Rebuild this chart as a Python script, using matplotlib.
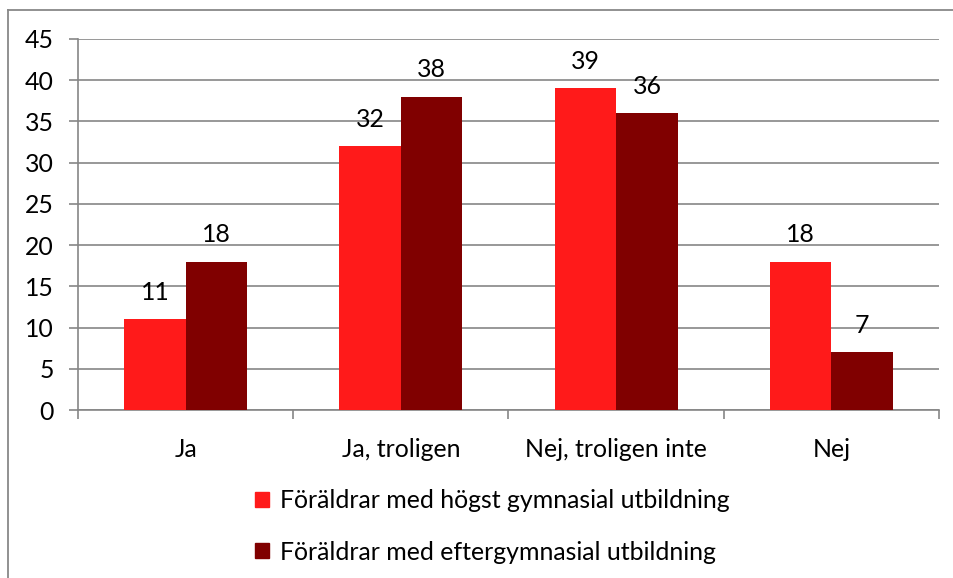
import matplotlib
matplotlib.use("Agg")
import matplotlib.pyplot as plt
import numpy as np
from matplotlib.lines import Line2D

categories = ["Ja", "Ja, troligen", "Nej, troligen inte", "Nej"]
series_names = ["Föräldrar med högst gymnasial utbildning",
                "Föräldrar med eftergymnasial utbildning"]
values_low = [11, 32, 39, 18]
values_high = [18, 38, 36, 7]
yticks = [0, 5, 10, 15, 20, 25, 30, 35, 40, 45]

colors = ["#FF1A1A", "#800000"]
W, H = 954, 578
FS = 17.9
plt.rcParams['font.family'] = ['Lato', 'DejaVu Sans']

fig = plt.figure(figsize=(W / 100, H / 100), dpi=100)
left, right, top, bottom = 78, 939, 39, 410
ax = fig.add_axes([left / W, 1 - bottom / H, (right - left) / W, (bottom - top) / H])

x = np.arange(len(categories))
bw = 0.286
b1 = ax.bar(x - bw / 2, values_low, bw, color=colors[0], zorder=3)
b2 = ax.bar(x + bw / 2, values_high, bw, color=colors[1], zorder=3)
for bars, vals in ((b1, values_low), (b2, values_high)):
    for r, v in zip(bars, vals):
        ax.annotate(str(v), (r.get_x() + r.get_width() / 2, v), xytext=(0, 11),
                    textcoords="offset points", ha="center", va="bottom",
                    fontsize=FS, color="#000000")

ax.set_xlim(-0.5, len(categories) - 0.5)
ax.set_ylim(0, 45)
ax.set_yticks(yticks)
ax.set_yticklabels([str(t) for t in yticks], fontsize=FS)
ax.yaxis.grid(True, color="#868686", linewidth=1.2, zorder=0)
ax.set_axisbelow(True)
ax.set_xticks(np.arange(len(categories) + 1) - 0.5, minor=False)
ax.set_xticklabels([""] * (len(categories) + 1))
ax.set_xticks(x, minor=True)
ax.set_xticklabels(categories, minor=True, fontsize=FS)
ax.tick_params(axis="x", which="major", length=6.5, color="#868686", width=1.2)
ax.tick_params(axis="x", which="minor", length=0, pad=20)
ax.tick_params(axis="y", length=6.5, color="#868686", width=1.2, pad=11)
for s in ("top", "right"):
    ax.spines[s].set_visible(False)
for s in ("left", "bottom"):
    ax.spines[s].set_color("#868686")
    ax.spines[s].set_linewidth(1.2)

handles = [plt.Rectangle((0, 0), 1, 1, color=c) for c in colors]
leg = fig.legend(handles, series_names, loc="upper left",
                 bbox_to_anchor=(255 / W, 1 - 489 / H), frameon=False,
                 fontsize=FS, handlelength=0.55, handleheight=0.55,
                 handletextpad=0.45, labelspacing=1.15, borderaxespad=0,
                 borderpad=0)

fig.add_artist(Line2D([8 / W, 8 / W], [0, 1 - 9.5 / H], color="#888888", lw=1.3,
                      transform=fig.transFigure))
fig.add_artist(Line2D([8 / W, 1], [1 - 9.5 / H, 1 - 9.5 / H], color="#888888", lw=1.3,
                      transform=fig.transFigure))

fig.savefig("out.png", dpi=100)
